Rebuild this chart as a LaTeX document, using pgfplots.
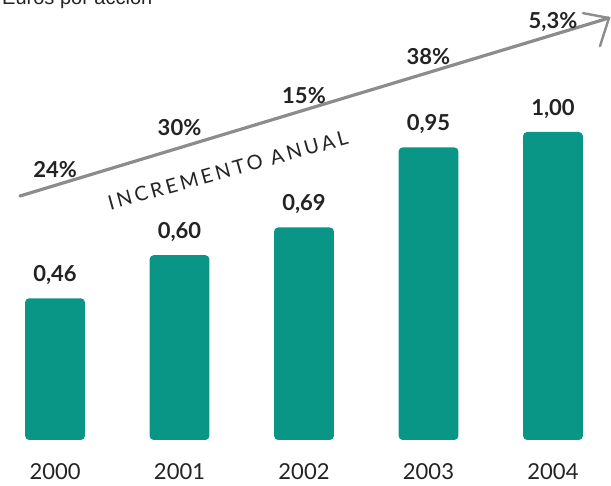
\documentclass[border=0pt]{standalone}
\usepackage{fontspec}
\setmainfont{Lato}
\newfontfamily\arialf{Liberation Sans}
\newfontfamily\spaced{Lato}[LetterSpace=16]
\usepackage{pgfplots}
\pgfplotsset{compat=1.18}
\definecolor{teal1}{RGB}{10,150,134}
\definecolor{arrowgray}{RGB}{140,140,140}
\definecolor{txt}{RGB}{35,35,35}
\begin{document}
\begin{tikzpicture}
\begin{axis}[
 scale only axis, width=305.5pt, height=243pt,
 xmin=-0.442, xmax=4.466, ymin=-0.1494, ymax=1.4286,
 axis line style={draw=none}, tick style={draw=none},
 ytick=\empty, xtick={0,1,2,3,4}, xticklabels={2000,2001,2002,2003,2004},
 xticklabel style={anchor=center, yshift=11.5pt, font=\fontsize{11}{12}\selectfont, text=txt},
 ybar, bar width=0.48, clip=false,
 nodes near coords,
 every node near coord/.append style={anchor=center, yshift=11.5pt, font=\fontsize{11}{13}\selectfont\bfseries, text=txt},
 /pgf/number format/use comma, /pgf/number format/fixed, /pgf/number format/fixed zerofill,
 /pgf/number format/precision=2, /pgf/number format/assume math mode=true
]
\addplot[fill=teal1, draw=none, rounded corners=2pt] coordinates {(0,0.46) (1,0.60) (2,0.69) (3,0.95) (4,1.00)};
% arrow
\draw[arrowgray, line width=1.6pt, line cap=round] (rel axis cs:0.0327,0.5967) -- (rel axis cs:0.9967,0.963);
\draw[arrowgray, line width=1.2pt, line cap=round, line join=round] (rel axis cs:0.954,0.973) -- (rel axis cs:0.9967,0.963) -- (rel axis cs:0.982,0.905);
\node[rotate=15.5, font=\spaced\fontsize{10}{12}\selectfont, text=txt] at (rel axis cs:0.373,0.650) {INCREMENTO ANUAL};
% percentages
\node[font=\fontsize{11}{13}\selectfont\bfseries, text=txt] at (axis cs:0,0.877) {24\%};
\node[font=\fontsize{11}{13}\selectfont\bfseries, text=txt] at (axis cs:1,1.016) {30\%};
\node[font=\fontsize{11}{13}\selectfont\bfseries, text=txt] at (axis cs:2,1.117) {15\%};
\node[font=\fontsize{11}{13}\selectfont\bfseries, text=txt] at (axis cs:3,1.244) {38\%};
\node[font=\fontsize{11}{13}\selectfont\bfseries, text=txt] at (axis cs:4,1.357) {5,3\%};
\node[anchor=base west, inner sep=0pt, font=\arialf\fontsize{10}{12}\selectfont, text=txt] at (rel axis cs:0.003,0.9897) {Euros por acción};
\end{axis}
\pgfresetboundingbox
\path[use as bounding box] (current axis.south west) rectangle (current axis.north east);
\end{tikzpicture}
\end{document}
